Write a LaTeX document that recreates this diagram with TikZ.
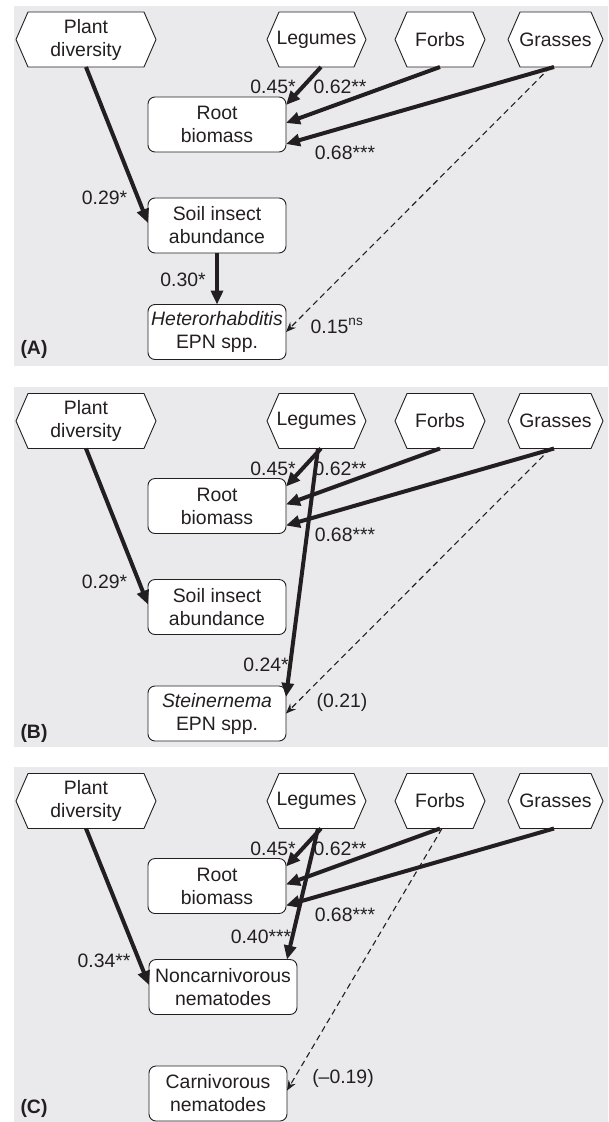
\documentclass[tikz,border=0pt]{standalone}
\usepackage{fontspec}
\setmainfont{Liberation Sans}
\usetikzlibrary{arrows.meta}
\definecolor{panelgrey}{RGB}{234,234,236}
\definecolor{edgecol}{RGB}{35,31,32}
\newcommand\lbl{\fontsize{19.4}{23}\selectfont}
\pgfdeclarelayer{panels}
\pgfdeclarelayer{shapes}
\pgfsetlayers{panels,shapes,main}
\tikzset{
  hexbox/.style={inner sep=0pt, outer sep=0pt, minimum height=55pt, align=center, font=\lbl, text=edgecol},
  hexline/.style={draw=edgecol, line width=0.9pt, fill=white},
  box/.style={draw=edgecol, line width=0.9pt, fill=white, rounded corners=7pt, minimum width=138pt,
    minimum height=55pt, inner sep=0pt, outer sep=0pt, align=center, font=\lbl, text=edgecol},
  solidarr/.style={draw=edgecol, line width=4pt, -{Triangle[length=14pt,width=12pt]}},
  dasharr/.style={draw=edgecol, line width=1.1pt, dash pattern=on 6pt off 4pt, -{Stealth[length=10pt,width=8pt]}},
  coef/.style={font=\lbl, inner sep=0pt, text=edgecol},
  tag/.style={font=\lbl\bfseries, inner sep=0pt, text=edgecol},
  panelbg/.style={fill=panelgrey, draw=none}
}
\newcommand\hexdraw[1]{%
  \begin{pgfonlayer}{shapes}
  \draw[hexline] (#1.west) -- ([xshift=12pt]#1.north west) -- ([xshift=-12pt]#1.north east)
    -- (#1.east) -- ([xshift=-12pt]#1.south east) -- ([xshift=12pt]#1.south west) -- cycle;
  \end{pgfonlayer}}
% common upper part of each panel; #1 = name prefix
\newcommand\toprow[1]{%
  \begin{pgfonlayer}{panels}
  \fill[panelbg] (14,5.5) rectangle (608,365.5);
  \end{pgfonlayer}
  \node[hexbox, minimum width=140pt] (#1pd) at (86,39.5) {Plant\\diversity};
  \node[hexbox, minimum width=99pt] (#1leg) at (316.5,39.5) {Legumes};
  \node[hexbox, minimum width=90pt] (#1forbs) at (440,39.5) {Forbs};
  \node[hexbox, minimum width=95pt] (#1grass) at (555.5,39.5) {Grasses};
  \hexdraw{#1pd}\hexdraw{#1leg}\hexdraw{#1forbs}\hexdraw{#1grass}
  \node[box] (#1root) at (217,124.5) {Root\\biomass};
  \draw[solidarr] ([xshift=4.5pt]#1leg.south) -- ([yshift=-8pt]#1root.north east);
  \draw[solidarr] (#1forbs.south) -- ([yshift=1.5pt]#1root.east);
  \draw[solidarr] ([xshift=-1.5pt]#1grass.south) -- ([yshift=-19.5pt]#1root.east);
  \node[coef] (#1c45) at (273,87) {0.45*};
  \node[coef] (#1c62) at (340,87) {0.62**};
  \node[coef] (#1c68) at (345,153) {0.68***};
}
\begin{document}
\begin{tikzpicture}[x=1pt, y=-1pt]
\useasboundingbox (0,0) rectangle (608,1122);
% ---------------- (A)
\begin{scope}
  \toprow{a}
  \node[box] (asoil) at (217,225.5) {Soil insect\\abundance};
  \node[box] (ahet) at (217,332) {\textit{Heterorhabditis}\\EPN spp.};
  \draw[solidarr] (apd.south) -- ([yshift=2.5pt]asoil.west);
  \draw[solidarr] (asoil.south) -- (ahet.north);
  \draw[dasharr] ([xshift=-5pt]agrass.south) -- (ahet.east);
  \node[coef] (ac29) at (104.5,198) {0.29*};
  \node[coef] (ac30) at (183,280) {0.30*};
  \node[coef] (ac15) at (337,326) {0.15\textsuperscript{ns}};
  \node[tag] (atag) at (34,349) {(A)};
\end{scope}
% ---------------- (B)
\begin{scope}[shift={(0,381.5)}]
  \toprow{b}
  \node[box] (bsoil) at (217,225.5) {Soil insect\\abundance};
  \node[box] (bst) at (217,332) {\textit{Steinernema}\\EPN spp.};
  \draw[solidarr] (bpd.south) -- ([yshift=2.5pt]bsoil.west);
  \draw[solidarr] ([xshift=1.5pt]bleg.south) -- ([yshift=-11pt]bst.north east);
  \draw[dasharr] ([xshift=-5pt]bgrass.south) -- (bst.east);
  \node[coef] (bc29) at (104.5,200) {0.29*};
  \node[coef] (bc24) at (266,283) {0.24*};
  \node[coef] (bc21) at (342,320.5) {(0.21)};
  \node[tag] (btag) at (34,352) {(B)};
\end{scope}
% ---------------- (C)
\begin{scope}[shift={(0,761.5)}]
  \toprow{c}
  \node[box, minimum width=148pt] (cnon) at (223,225.5) {Noncarnivorous\\nematodes};
  \node[box] (ccarn) at (218,332) {Carnivorous\\nematodes};
  \draw[solidarr] (cpd.south) -- ([yshift=2pt]cnon.west);
  \draw[solidarr] ([xshift=1.5pt]cleg.south) -- ([xshift=-10pt]cnon.north east);
  \draw[dasharr] ([xshift=2pt]cforbs.south) -- ([yshift=3pt]ccarn.east);
  \node[coef] (cc34) at (104,199.5) {0.34**};
  \node[coef] (cc40) at (261,175) {0.40***};
  \node[coef] (cc19) at (343,316.5) {(--0.19)};
  \node[tag] (ctag) at (34,347) {(C)};
\end{scope}
\end{tikzpicture}
\end{document}
